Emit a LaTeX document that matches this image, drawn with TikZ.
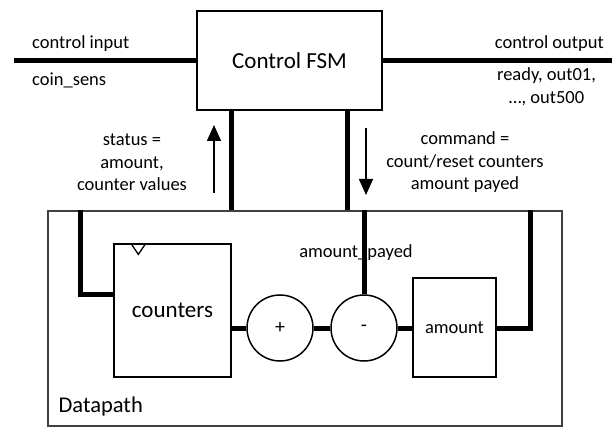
\documentclass[tikz,border=0pt]{standalone}
\usepackage{fontspec}
\setmainfont{Carlito}
\usetikzlibrary{arrows.meta, positioning}

\begin{document}
\begin{tikzpicture}[
    x=1pt, y=1pt,
    block/.style={rectangle, draw, line width=1.3pt, inner sep=0pt, font=\fontsize{23}{27}\selectfont},
    op/.style={circle, draw, line width=1.5pt, minimum size=66pt, inner sep=0pt, font=\fontsize{20}{24}\selectfont},
    lbl/.style={align=center, inner sep=0pt, font=\fontsize{18.5}{22.5}\selectfont},
    bus/.style={line width=5pt},
    arrow/.style={-{Triangle[length=16pt, width=14pt]}, line width=1.5pt}
]
\useasboundingbox (0,0) rectangle (612,-427);

% FSM DE CONTROLE
\node[block, line width=2pt, minimum width=185pt, minimum height=99pt] (fsm) at (289.5,-60.5) {Control FSM};
\coordinate (ctrlin) at (14,-61);
\coordinate (ctrlout) at (612,-61);

\node[lbl, anchor=west] (inlabel) at (32,-44) {control input};
\node[lbl, anchor=west] (coinsens) at (32,-80) {coin\_sens};
\node[lbl, anchor=east] (outlabel) at (604,-44) {control output};
\node[lbl] (outsigs) at (546.5,-87) {ready, out01,\\…, out500};

% DATAPATH
\node[block, line width=1.1pt, draw=black!75, minimum width=514pt, minimum height=215pt] (datapath) at (305,-318.5) {};
\node[block, draw=none, anchor=west, font=\fontsize{22.5}{26}\selectfont] (dplabel) at (58,-406) {Datapath};

\node[block, minimum width=117pt, minimum height=133pt] (counters) at (172.5,-310.5) {counters};
\node[op] (plus) at (280,-328) {+};
\node[op] (minus) at (364,-328) {-};
\node[block, line width=1.1pt, minimum width=83pt, minimum height=99pt, font=\fontsize{18.5}{22}\selectfont] (amount) at (454.5,-327.5) {amount};
\node[lbl] (payed) at (356,-253) {amount\_payed};

% horloge des compteurs
\draw[line width=1.3pt] ([xshift=17.5pt]counters.north west) -- ([xshift=25pt, yshift=-11pt]counters.north west) -- ([xshift=32.5pt]counters.north west);

% statut et commande
\coordinate (stlow) at (214,-193);
\coordinate (sthigh) at (214,-125);
\coordinate (cmdhigh) at (366,-128);
\coordinate (cmdlow) at (366,-195);
\node[lbl] (status) at (132,-162.5) {status =\\amount,\\counter values};
\node[lbl] (command) at (465,-162.5) {command =\\count/reset counters\\amount payed};

% FLECHES
\draw[bus] (ctrlin) -- (ctrlin -| fsm.west);
\draw[bus] (fsm.east |- ctrlout) -- (ctrlout);
\draw[bus] ([xshift=-58.5pt]fsm.south) -- ([xshift=-58.5pt]fsm.south |- datapath.north);
\draw[bus] ([xshift=57.5pt]fsm.south) -- ([xshift=57.5pt]fsm.south |- datapath.north);
\draw[arrow] (stlow) -- (sthigh);
\draw[arrow] (cmdhigh) -- (cmdlow);

% BUS DU DATAPATH
\draw[bus] ([xshift=33pt]datapath.north west) |- ([yshift=16.5pt]counters.west);
\draw[bus] (counters.east |- plus.west) -- (plus.west);
\draw[bus] (plus.east) -- (minus.west);
\draw[bus] (minus.east) -- (amount.west |- minus.east);
\draw[bus] (minus.north) -- (minus.north |- datapath.north);
\draw[bus] (amount.east |- minus.east) -| ([xshift=-32pt]datapath.north east);

\end{tikzpicture}
\end{document}
